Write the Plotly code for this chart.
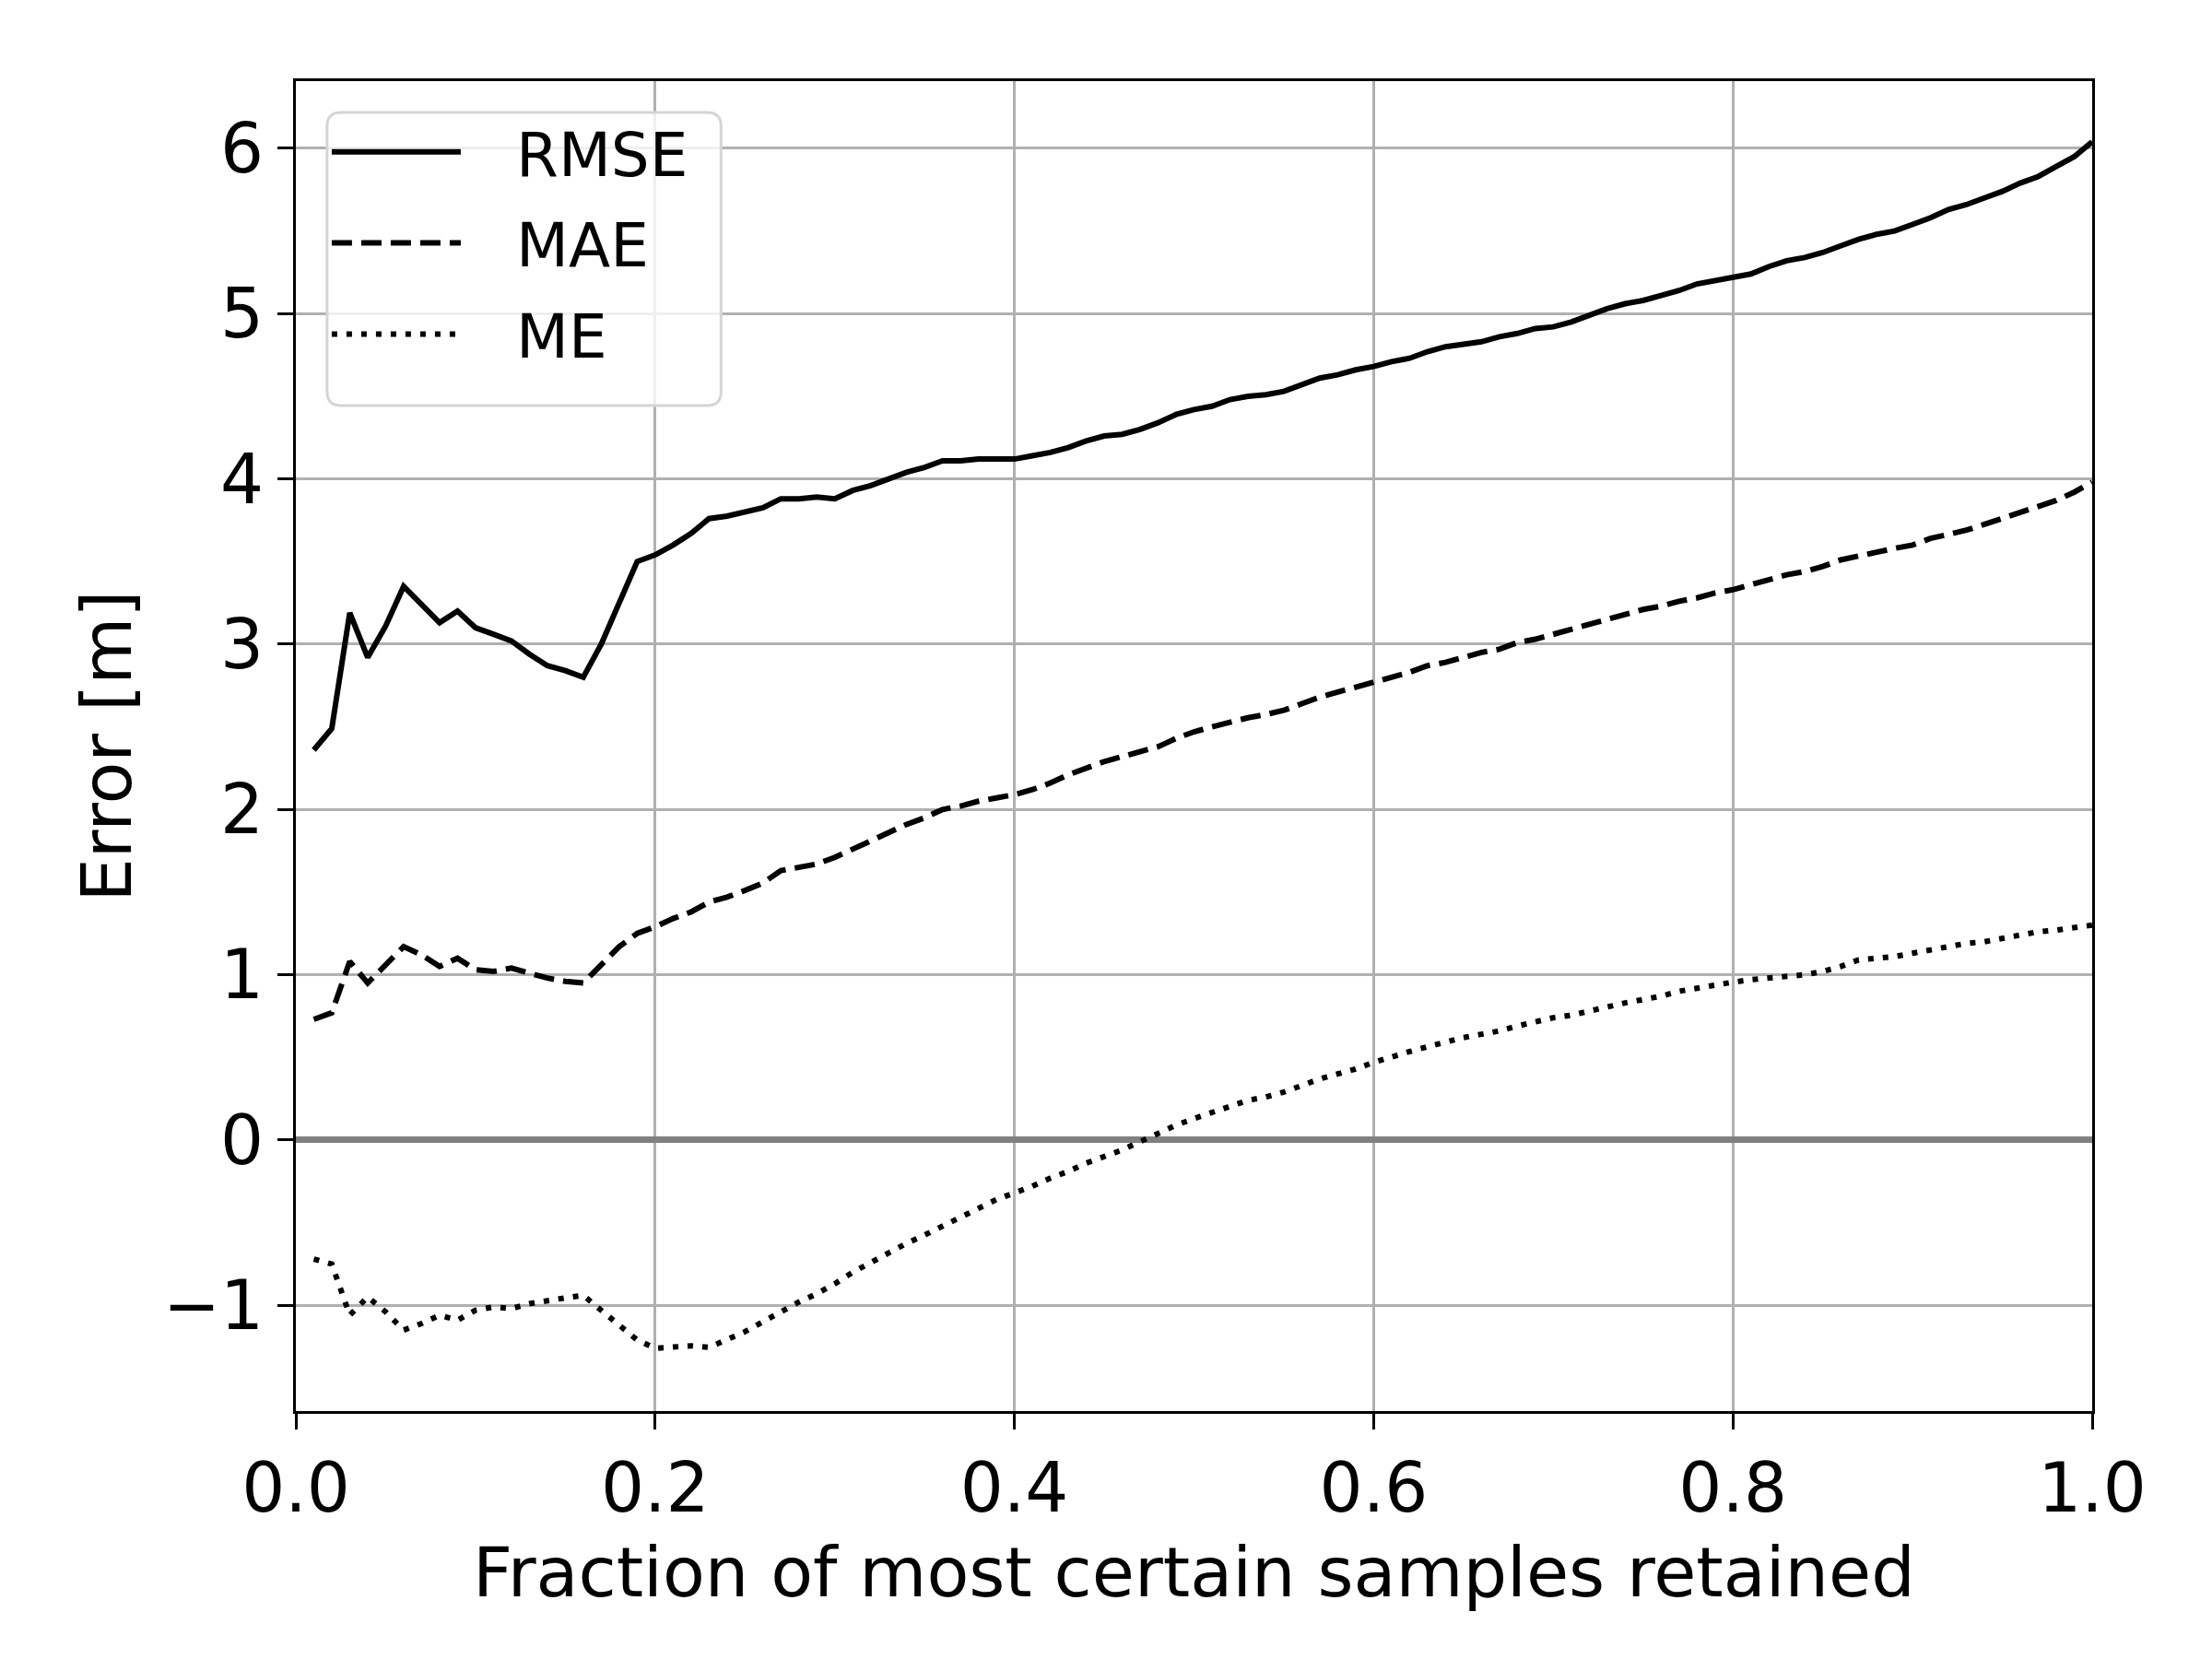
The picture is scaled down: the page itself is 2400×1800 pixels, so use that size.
import plotly.graph_objects as go

# fraction of most certain samples retained
fraction = [0.01, 0.02, 0.03, 0.04, 0.05, 0.06, 0.07, 0.08, 0.09, 0.10,
            0.11, 0.12, 0.13, 0.14, 0.15, 0.16, 0.17, 0.18, 0.19, 0.20,
            0.21, 0.22, 0.23, 0.24, 0.25, 0.26, 0.27, 0.28, 0.29, 0.30,
            0.31, 0.32, 0.33, 0.34, 0.35, 0.36, 0.37, 0.38, 0.39, 0.40,
            0.41, 0.42, 0.43, 0.44, 0.45, 0.46, 0.47, 0.48, 0.49, 0.50,
            0.51, 0.52, 0.53, 0.54, 0.55, 0.56, 0.57, 0.58, 0.59, 0.60,
            0.61, 0.62, 0.63, 0.64, 0.65, 0.66, 0.67, 0.68, 0.69, 0.70,
            0.71, 0.72, 0.73, 0.74, 0.75, 0.76, 0.77, 0.78, 0.79, 0.80,
            0.81, 0.82, 0.83, 0.84, 0.85, 0.86, 0.87, 0.88, 0.89, 0.90,
            0.91, 0.92, 0.93, 0.94, 0.95, 0.96, 0.97, 0.98, 0.99, 1.00]

rmse = [2.36, 2.49, 3.19, 2.92, 3.11, 3.35, 3.24, 3.13, 3.20, 3.10,
        3.06, 3.02, 2.94, 2.87, 2.84, 2.80, 3.00, 3.26, 3.50, 3.54,
        3.60, 3.67, 3.76, 3.775, 3.80, 3.825, 3.88, 3.88, 3.89, 3.88,
        3.93, 3.96, 4.00, 4.04, 4.07, 4.11, 4.11, 4.12, 4.12, 4.12,
        4.14, 4.16, 4.19, 4.23, 4.26, 4.27, 4.30, 4.34, 4.39, 4.42,
        4.44, 4.48, 4.50, 4.51, 4.53, 4.57, 4.61, 4.63, 4.66, 4.68,
        4.71, 4.73, 4.77, 4.80, 4.815, 4.83, 4.86, 4.88, 4.91, 4.92,
        4.95, 4.99, 5.03, 5.06, 5.08, 5.11, 5.14, 5.18, 5.20, 5.22,
        5.24, 5.285, 5.32, 5.34, 5.37, 5.41, 5.45, 5.48, 5.50, 5.54,
        5.58, 5.63, 5.66, 5.70, 5.74, 5.79, 5.83, 5.89, 5.95, 6.04]

mae = [0.73, 0.77, 1.08, 0.95, 1.06, 1.17, 1.12, 1.05, 1.10, 1.03,
       1.02, 1.04, 1.01, 0.98, 0.96, 0.95, 1.06, 1.17, 1.25, 1.29,
       1.34, 1.38, 1.44, 1.47, 1.51, 1.555, 1.63, 1.65, 1.67, 1.71,
       1.76, 1.81, 1.86, 1.91, 1.95, 2.00, 2.02, 2.05, 2.07, 2.09,
       2.12, 2.16, 2.21, 2.25, 2.29, 2.32, 2.35, 2.38, 2.43, 2.47,
       2.50, 2.53, 2.555, 2.575, 2.60, 2.64, 2.68, 2.71, 2.74, 2.77,
       2.80, 2.83, 2.87, 2.89, 2.92, 2.95, 2.97, 3.01, 3.03, 3.06,
       3.09, 3.12, 3.15, 3.18, 3.21, 3.23, 3.26, 3.28, 3.31, 3.33,
       3.36, 3.39, 3.42, 3.44, 3.47, 3.51, 3.535, 3.56, 3.58, 3.60,
       3.64, 3.665, 3.69, 3.725, 3.76, 3.80, 3.83, 3.87, 3.92, 3.98]

me = [-0.72, -0.75, -1.06, -0.95, -1.04, -1.15, -1.11, -1.06, -1.09, -1.03,
      -1.01, -1.02, -0.99, -0.97, -0.955, -0.94, -1.03, -1.12, -1.21, -1.26,
      -1.25, -1.245, -1.255, -1.21, -1.16, -1.10, -1.04, -0.98, -0.93, -0.87,
      -0.80, -0.74, -0.685, -0.625, -0.575, -0.52, -0.47, -0.41, -0.36, -0.32,
      -0.28, -0.23, -0.19, -0.14, -0.10, -0.06, -0.01, 0.04, 0.09, 0.13,
      0.165, 0.20, 0.24, 0.26, 0.29, 0.33, 0.37, 0.40, 0.43, 0.47,
      0.505, 0.535, 0.565, 0.595, 0.62, 0.64, 0.66, 0.69, 0.715, 0.74,
      0.755, 0.78, 0.81, 0.83, 0.85, 0.87, 0.90, 0.92, 0.94, 0.955,
      0.97, 0.98, 0.985, 1.00, 1.02, 1.05, 1.09, 1.10, 1.11, 1.13,
      1.15, 1.175, 1.19, 1.20, 1.22, 1.24, 1.26, 1.27, 1.285, 1.30]

x_ticks = [0.0, 0.2, 0.4, 0.6, 0.8, 1.0]
x_ticktext = ["0.0", "0.2", "0.4", "0.6", "0.8", "1.0"]
y_ticks = [-1, 0, 1, 2, 3, 4, 5, 6]
y_ticktext = ["\u22121", "0", "1", "2", "3", "4", "5", "6"]

font = "DejaVu Sans"
gap = "\u00a0\u00a0\u2009"   # space between legend line and label

fig = go.Figure()
fig.add_trace(go.Scatter(x=fraction, y=rmse, mode="lines", name=gap + "RMSE",
                         legendgroup="a",
                         line=dict(color="black", width=6)))
fig.add_trace(go.Scatter(x=fraction, y=mae, mode="lines", name=gap + "MAE",
                         legendgroup="b",
                         line=dict(color="black", width=6, dash="22px,10px")))
fig.add_trace(go.Scatter(x=fraction, y=me, mode="lines", name=gap + "ME",
                         legendgroup="c",
                         line=dict(color="black", width=6, dash="6px,10px")))

# rounded legend frame, like matplotlib's fancybox
x0, x1, y0, y1 = 0.0174, 0.2367, 0.756, 0.9764
rx, ry = 0.0077, 0.0104
frame = (f"M{x0 + rx},{y0} L{x1 - rx},{y0} Q{x1},{y0} {x1},{y0 + ry} "
         f"L{x1},{y1 - ry} Q{x1},{y1} {x1 - rx},{y1} "
         f"L{x0 + rx},{y1} Q{x0},{y1} {x0},{y1 - ry} "
         f"L{x0},{y0 + ry} Q{x0},{y0} {x0 + rx},{y0} Z")
fig.add_shape(type="path", path=frame, xref="paper", yref="paper",
              fillcolor="rgba(255,255,255,0.8)",
              line=dict(color="#d5d5d5", width=3), layer="above")

# x axis label placed as annotation to sit closer to the tick labels
fig.add_annotation(text="Fraction of most certain samples retained",
                   xref="paper", yref="paper", x=0.5, y=-0.121,
                   xanchor="center", yanchor="middle", showarrow=False,
                   font=dict(size=75))

fig.update_layout(
    width=2400, height=1800,
    margin=dict(l=313, r=138, t=80, b=277),
    paper_bgcolor="white", plot_bgcolor="white",
    font=dict(family=font, size=74, color="black"),
    legend=dict(x=0.0174, y=0.981, xanchor="left", yanchor="top",
                bgcolor="rgba(0,0,0,0)", borderwidth=0,
                font=dict(size=66), itemwidth=140, tracegroupgap=10),
    showlegend=True,
)
fig.update_xaxes(range=[0, 1], tickvals=x_ticks, ticktext=x_ticktext,
                 showgrid=True, gridcolor="#b0b0b0", gridwidth=2.5,
                 zeroline=False, showline=True, mirror=True,
                 linecolor="black", linewidth=3,
                 ticks="outside", ticklen=17, tickwidth=3, tickcolor="black")
fig.update_yaxes(range=[-1.64, 6.407], tickvals=y_ticks, ticktext=y_ticktext,
                 showgrid=True, gridcolor="#b0b0b0", gridwidth=2.5,
                 zeroline=True, zerolinecolor="#808080", zerolinewidth=7,
                 showline=True, mirror=True, linecolor="black", linewidth=3,
                 ticks="outside", ticklen=17, tickwidth=3, tickcolor="black",
                 title=dict(text="Error [m]", font=dict(size=75), standoff=10))

fig.write_html("out.html")
